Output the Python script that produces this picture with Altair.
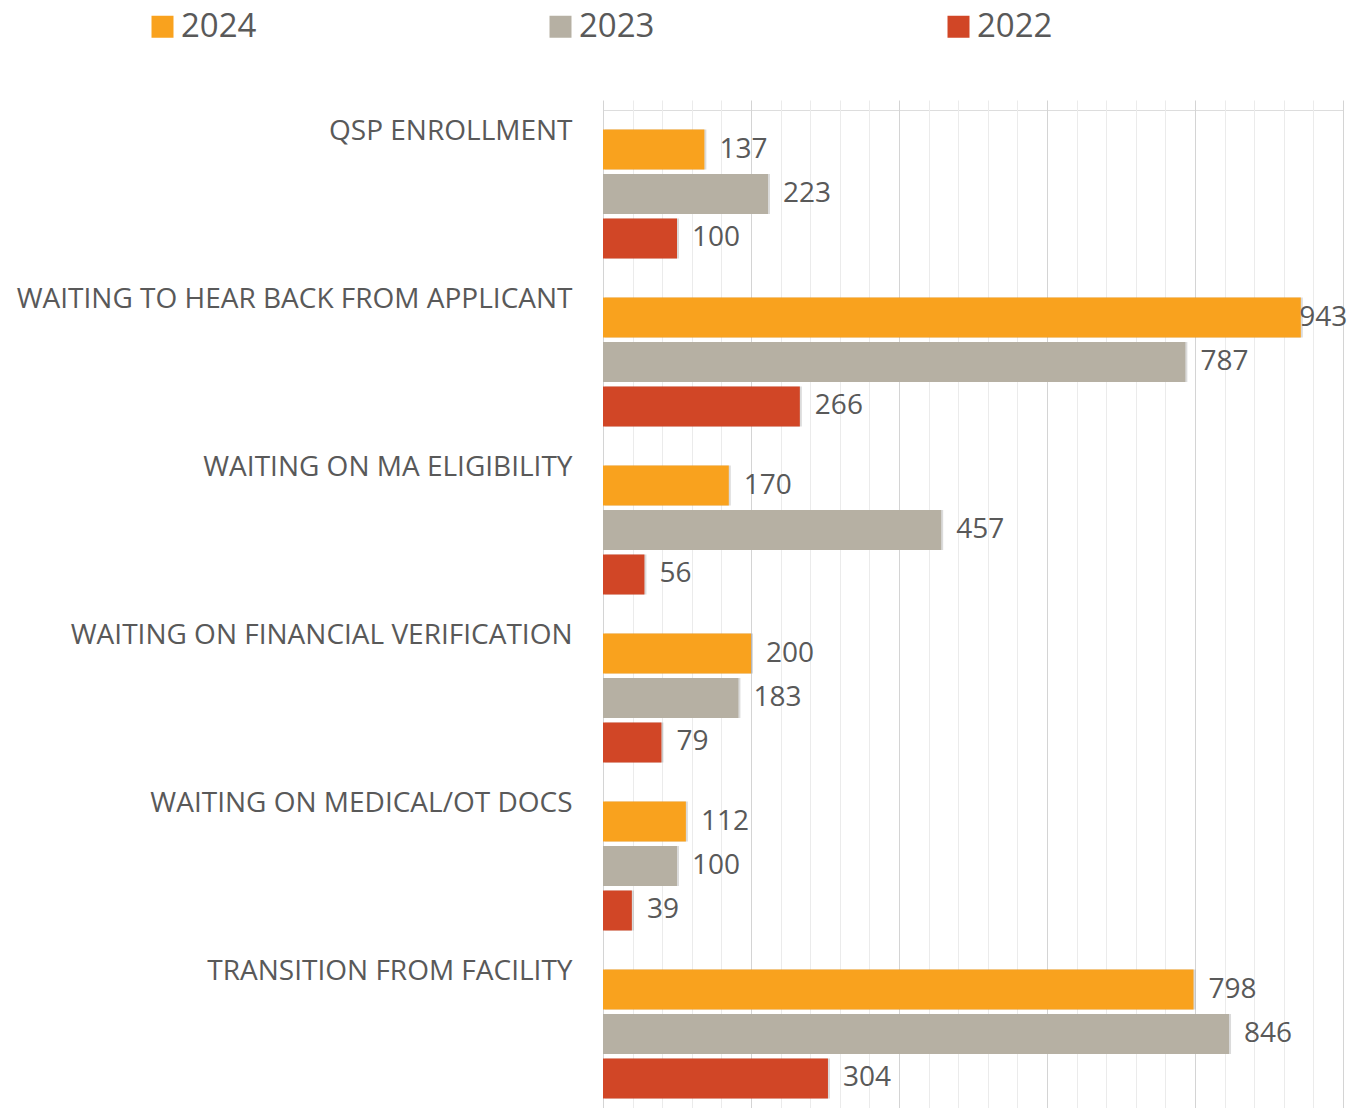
import altair as alt
import pandas as pd

categories = [
    "QSP ENROLLMENT",
    "WAITING TO HEAR BACK FROM APPLICANT",
    "WAITING ON MA ELIGIBILITY",
    "WAITING ON FINANCIAL VERIFICATION",
    "WAITING ON MEDICAL/OT DOCS",
    "TRANSITION FROM FACILITY",
]
years = ["2024", "2023", "2022"]
values_2024 = [137, 943, 170, 200, 112, 798]
values_2023 = [223, 787, 457, 183, 100, 846]
values_2022 = [100, 266, 56, 79, 39, 304]
colors = ["#F9A21E", "#B6B0A3", "#D14626"]
grid_values = list(range(0, 1001, 40))

rows = []
for yr, vals in zip(years, [values_2024, values_2023, values_2022]):
    for c, v in zip(categories, vals):
        rows.append({"category": c, "year": yr, "value": v})
df = pd.DataFrame(rows)

TEXT = "#595959"
FONT = "Open Sans"

x_scale = alt.Scale(domain=[0, 1000], nice=False, zero=True)
x_axis = alt.Axis(
    title=None,
    labels=False,
    ticks=False,
    domain=False,
    values=grid_values,
    grid=True,
    gridColor={"condition": {"test": "datum.value % 200 === 0", "value": "#d4d4d4"}, "value": "#ebebeb"},
    gridWidth=1,
)

base = alt.Chart(df).encode(
    y=alt.Y(
        "category:N",
        sort=categories,
        scale=alt.Scale(paddingInner=0.232, paddingOuter=0.116, range=[0, 1008]),
        axis=alt.Axis(
            title=None,
            ticks=False,
            domain=False,
            grid=False,
            labelAlign="right",
            labelBaseline="middle",
            labelOffset=-62,
            labelPadding=31,
            labelFontSize=28,
            labelFont=FONT,
            labelColor=TEXT,
            labelLimit=0,
        ),
    ),
    yOffset=alt.YOffset("year:N", sort=years, scale=alt.Scale(paddingInner=0.1, paddingOuter=0)),
)

shadow = base.mark_bar(color="#000000", opacity=0.14, xOffset=2, yOffset=2.5).encode(
    x=alt.X("value:Q", scale=x_scale, axis=x_axis),
)

bars = base.mark_bar(cornerRadius=0).encode(
    x=alt.X("value:Q", scale=x_scale, axis=x_axis),
    color=alt.Color(
        "year:N",
        sort=years,
        scale=alt.Scale(domain=years, range=colors),
        legend=alt.Legend(
            title=None,
            orient="none",
            legendX=-457,
            legendY=-100,
            direction="horizontal",
            columns=3,
            columnPadding=287,
            symbolType="square",
            symbolSize=484,
            symbolStrokeWidth=0,
            symbolOpacity=1,
            labelFontSize=33,
            labelFont=FONT,
            labelColor=TEXT,
            labelOffset=2,
        ),
    ),
)

labels = base.transform_calculate(
    lx="min(datum.value + 20.3, 941)"
).mark_text(
    align="left", baseline="middle", fontSize=28, font=FONT, color=TEXT
).encode(
    x=alt.X("lx:Q", scale=x_scale, axis=x_axis),
    text=alt.Text("value:Q"),
)

chart = (
    alt.layer(shadow, bars, labels)
    .properties(
        width=740,
        height=998,
        autosize=alt.AutoSizeParams(type="none"),
        padding={"left": 595, "top": 102, "right": 5, "bottom": 0},
    )
    .configure_view(stroke="transparent", strokeWidth=0)
    .configure(background="white")
)

chart.save("out.html", embed_options={"renderer": "svg", "actions": False})
